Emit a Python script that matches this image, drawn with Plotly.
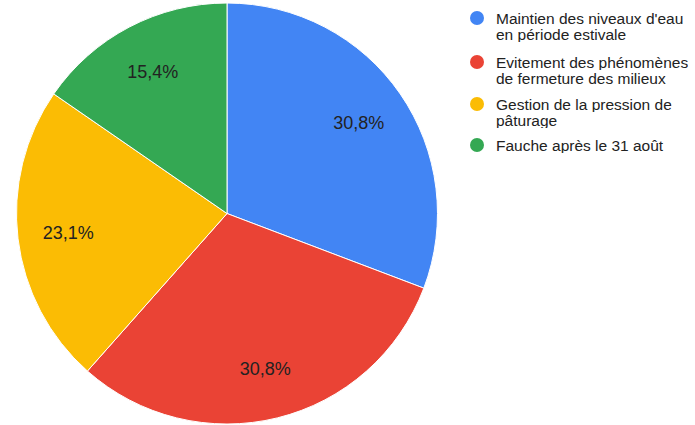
import plotly.graph_objects as go

# Share of each management measure (percent)
categories = [
    ["Maintien des niveaux d'eau", "en période estivale"],
    ["Evitement des phénomènes", "de fermeture des milieux"],
    ["Gestion de la pression de", "pâturage"],
    ["Fauche après le 31 août"],
]
shares = [30.8, 30.8, 23.1, 15.4]
colors = ["#4285F4", "#EA4335", "#FBBC04", "#34A853"]

W, H = 695, 425
FONT = "Liberation Sans, Arial, sans-serif"
labels = [" ".join(c) for c in categories]
domain = dict(x=[13 / W, 441 / W], y=[1 - 424 / H, 1 - 3 / H])

fig = go.Figure()

# Filled slices
fig.add_trace(
    go.Pie(
        labels=labels,
        values=shares,
        sort=False,
        direction="clockwise",
        rotation=0,
        marker=dict(colors=colors, line=dict(color="white", width=1)),
        textinfo="none",
        hoverinfo="label+percent",
        domain=domain,
        showlegend=False,
    )
)

# Transparent ring carrying the percentage labels toward the outer part of each slice
fig.add_trace(
    go.Pie(
        labels=labels,
        values=shares,
        sort=False,
        direction="clockwise",
        rotation=0,
        hole=0.52,
        marker=dict(colors=["rgba(0,0,0,0)"] * len(shares), line=dict(width=0)),
        texttemplate="%{value:.1f}%",
        textposition="inside",
        insidetextorientation="horizontal",
        textfont=dict(family=FONT, size=18, color="#222222"),
        hoverinfo="skip",
        domain=domain,
        showlegend=False,
    )
)

# Custom legend with round markers
shapes = []
annotations = []
item_y = [18, 62, 104, 145]
line_gap = 16
for lines, col, cy in zip(categories, colors, item_y):
    cx, r = 477, 7
    shapes.append(
        dict(
            type="circle", xref="paper", yref="paper",
            x0=(cx - r) / W, x1=(cx + r) / W,
            y0=1 - (cy + r) / H, y1=1 - (cy - r) / H,
            fillcolor=col, line=dict(width=0),
        )
    )
    for j, txt in enumerate(lines):
        annotations.append(
            dict(
                x=495 / W, y=1 - (cy + j * line_gap) / H, xref="paper", yref="paper",
                xanchor="left", yanchor="middle", align="left", valign="middle",
                height=line_gap, borderpad=0,
                text=txt, showarrow=False,
                font=dict(family=FONT, size=15.5, color="#222222"),
            )
        )

fig.update_layout(
    width=W, height=H,
    margin=dict(l=0, r=0, t=0, b=0),
    paper_bgcolor="white",
    plot_bgcolor="white",
    separators=", ",
    shapes=shapes,
    annotations=annotations,
)

fig.write_html("out.html")
